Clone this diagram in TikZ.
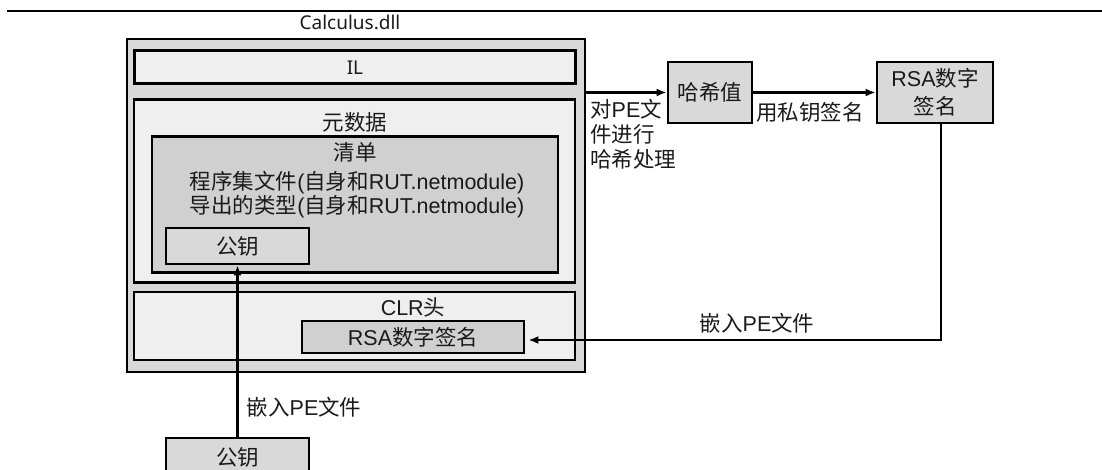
\documentclass[tikz,border=0pt]{standalone}
\usepackage{fontspec}
\setmainfont{Liberation Sans}
\newfontfamily\cjkf{Noto Sans CJK SC}
\newfontfamily\segf{Noto Sans}
\newcommand{\C}[1]{{\cjkf #1}}
\usetikzlibrary{arrows.meta}
\definecolor{outerfill}{HTML}{D9D9D9}
\definecolor{lightfill}{HTML}{EFEFEF}
\definecolor{darkfill}{HTML}{D0D0D0}
\definecolor{txt}{HTML}{1A1A1A}
\begin{document}
\begin{tikzpicture}[x=1pt,y=-1pt,
  box/.style={draw=black, line width=2.8pt, inner sep=0pt},
  txtnode/.style={inner sep=0pt, text=txt, font=\fontsize{21.5}{25}\selectfont},
  arr/.style={line width=2.2pt, -{Latex[length=10pt,width=8pt]}}]
\useasboundingbox (0,0) rectangle (1102,470);
\clip (0,0) rectangle (1102,470);
% top rule
\coordinate (ruleL) at (7,11);
\coordinate (ruleR) at (1102,11);
\draw[line width=2.5pt] (ruleL) -- (ruleR);
\node[txtnode, font=\segf\fontsize{19}{21}\selectfont] (title) at (350,22) {Calculus.dll};
% outer assembly
\node[box, line width=2.4pt, fill=outerfill, minimum width=458pt, minimum height=333pt] (outer) at (356,205.5) {};
\node[box, fill=lightfill, minimum width=441pt, minimum height=33pt] (il) at (355,67) {};
\node[txtnode, font=\segf\fontsize{19}{21}\selectfont] (iltxt) at (355,68) {IL};
\node[box, fill=lightfill, minimum width=441pt, minimum height=183pt] (meta) at (354.5,191) {};
\node[txtnode] (metatxt) at (355,122) {\C{元数据}};
\node[box, fill=darkfill, minimum width=406pt, minimum height=136pt] (list) at (355,204.5) {};
\node[txtnode] (listtxt) at (355,152) {\C{清单}};
\node[txtnode] (listl1) at (357,183) {\C{程序集文件}(\C{自身和}RUT.netmodule)};
\node[txtnode] (listl2) at (357,207) {\C{导出的类型}(\C{自身和}RUT.netmodule)};
\node[box, fill=outerfill, minimum width=143pt, minimum height=36pt, txtnode] (pk) at (237.5,246) {\C{公钥}};
\node[box, fill=lightfill, minimum width=441pt, minimum height=68pt] (clr) at (354.5,326) {};
\node[txtnode] (clrtxt) at (413,307) {CLR\C{头}};
\node[box, fill=darkfill, minimum width=222pt, minimum height=32pt, txtnode] (rsai) at (413,337) {RSA\C{数字签名}};
% right side
\node[box, fill=outerfill, minimum width=84pt, minimum height=61pt, txtnode] (hash) at (710,92.5) {\C{哈希值}};
\node[box, fill=outerfill, minimum width=116pt, minimum height=61pt, txtnode, align=center, font=\fontsize{21.5}{28}\selectfont] (rsar) at (935,92.5) {RSA\C{数字}\\\C{签名}};
% bottom public key
\node[box, fill=outerfill, minimum width=143pt, minimum height=62pt] (pk2) at (237.5,469) {};
\node[txtnode] (pk2txt) at (237.5,457) {\C{公钥}};
% connectors
\draw[arr] (hash.west -| outer.east) -- (hash.west);
\draw[arr] (hash.east) -- (rsar.west);
\draw[arr, shorten >=3pt] ([xshift=6pt]rsar.south) |- ([yshift=-3pt]rsai.east);
\draw[arr] (pk2.north) -- (pk.south);
% labels
\node[txtnode, anchor=west, align=left] (hashlab) at (590,134) {\C{对}PE\C{文}\\\C{件进行}\\\C{哈希处理}};
\node[txtnode] (signlab) at (810,112) {\C{用私钥签名}};
\node[txtnode] (emb1) at (757,323) {\C{嵌入}PE\C{文件}};
\node[txtnode] (emb2) at (304,407) {\C{嵌入}PE\C{文件}};
\end{tikzpicture}
\end{document}
